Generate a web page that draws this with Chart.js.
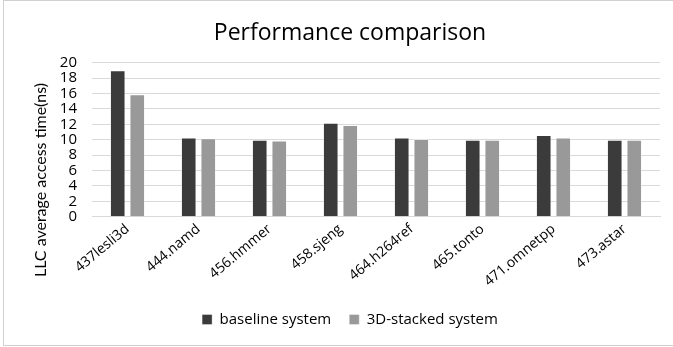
<!DOCTYPE html>
<html>
<head>
<meta charset="utf-8">
<script src="https://cdn.jsdelivr.net/npm/chart.js@4/dist/chart.umd.min.js"></script>
<style>
  html, body { margin: 0; padding: 0; background: #fff; }
  #wrap { position: relative; width: 673px; height: 347px; }
  #frame { position: absolute; left: 3px; top: 0px; width: 680px; height: 346px;
           border: 1px solid #d0d0d0; box-sizing: border-box; pointer-events: none; }
  canvas { position: absolute; left: 0; top: 0; }
</style>
</head>
<body>
<div id="wrap">
  <canvas id="chart" width="673" height="347"></canvas>
  <div id="frame"></div>
</div>
<script>
// Benchmarks and measured LLC average access time (ns)
const benchmarks = ['437lesli3d', '444.namd', '456.hmmer', '458.sjeng',
                    '464.h264ref', '465.tonto', '471.omnetpp', '473.astar'];
const baselineSystem = [19.0, 10.3, 10.0, 12.2, 10.3, 10.0, 10.6, 10.0];
const stackedSystem  = [15.9, 10.2, 9.9, 11.9, 10.1, 10.0, 10.3, 10.0];
const yTicks = [0, 2, 4, 6, 8, 10, 12, 14, 16, 18, 20];
const yTitle = 'LLC average access time(ns)';

// Vertical axis title, placed by hand so it sits lower than the scale centre
const yTitlePlugin = {
  id: 'yTitle',
  afterDraw(chart) {
    const ctx = chart.ctx;
    ctx.save();
    ctx.translate(41, 180);
    ctx.rotate(-Math.PI / 2);
    ctx.font = '16px Lato';
    ctx.fillStyle = '#000';
    ctx.textAlign = 'center';
    ctx.textBaseline = 'middle';
    ctx.fillText(yTitle, 0, 0);
    ctx.restore();
  }
};

new Chart(document.getElementById('chart'), {
  type: 'bar',
  data: {
    labels: benchmarks,
    datasets: [
      { label: 'baseline system', data: baselineSystem,
        backgroundColor: '#3b3b3b', borderColor: 'rgba(255,255,255,0.35)', borderWidth: 1 },
      { label: '3D-stacked system', data: stackedSystem,
        backgroundColor: '#999999', borderColor: 'rgba(255,255,255,0.35)', borderWidth: 1 }
    ]
  },
  options: {
    responsive: false,
    animation: false,
    layout: { padding: { left: 40, right: 13, top: 0, bottom: 10 } },
    datasets: { bar: { categoryPercentage: 0.55, barPercentage: 0.8 } },
    plugins: {
      title: {
        display: true,
        text: 'Performance comparison',
        color: '#000',
        font: { family: 'Open Sans', size: 23, weight: 'normal' },
        padding: { top: 20, bottom: 15 }
      },
      legend: {
        position: 'bottom',
        labels: {
          color: '#000',
          font: { family: 'Open Sans', size: 15 },
          boxWidth: 10, boxHeight: 10, padding: 18
        }
      },
      tooltip: { enabled: false }
    },
    scales: {
      x: {
        grid: { display: false, drawTicks: false },
        border: { display: true, color: '#d9d9d9' },
        ticks: { color: '#000', font: { family: 'Open Sans', size: 14 },
                 minRotation: 40, maxRotation: 40, padding: 4, autoSkip: false }
      },
      y: {
        min: 0, max: 20,
        afterFit(scale) { scale.width = 52; },
        afterBuildTicks(scale) { scale.ticks = yTicks.map(v => ({ value: v })); },
        grid: { color: '#d9d9d9', lineWidth: 1, drawTicks: false },
        border: { display: false },
        ticks: { color: '#000', font: { family: 'Open Sans', size: 15 }, padding: 15,
                 autoSkip: false }
      }
    }
  },
  plugins: [yTitlePlugin]
});
</script>
</body>
</html>
